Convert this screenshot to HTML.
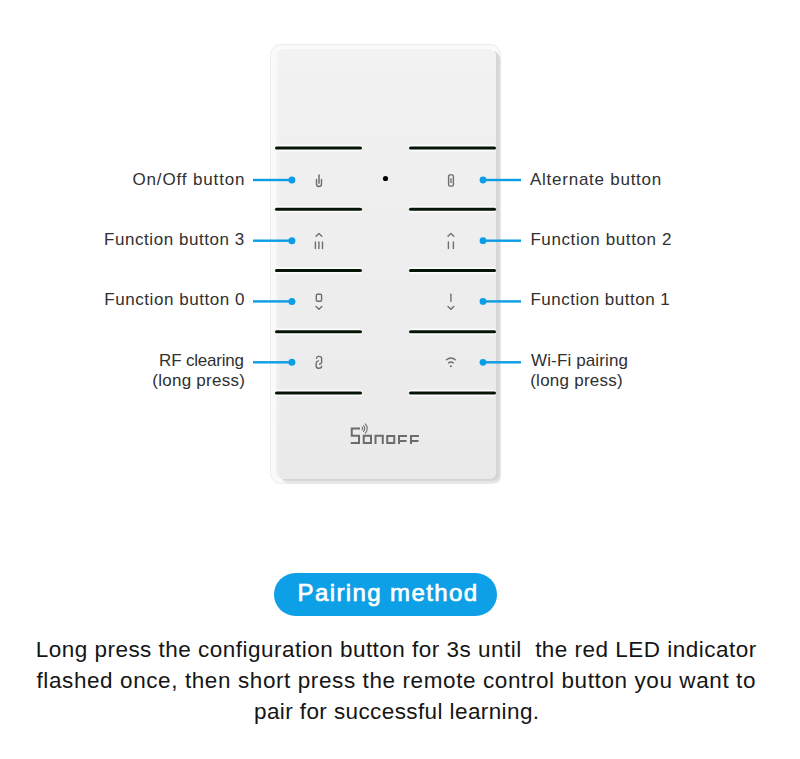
<!DOCTYPE html>
<html><head><meta charset="utf-8">
<style>
html,body{margin:0;padding:0;background:#fff;}
body{width:800px;height:759px;position:relative;overflow:hidden;font-family:"Liberation Sans",sans-serif;color:#2a2a2a;}
.abs{position:absolute;}
#frame{left:270px;top:44px;width:231px;height:440px;box-sizing:border-box;border:1px solid #ececec;border-radius:11px;background:#fafafa;}
#face{left:276px;top:49px;width:220px;height:430px;border-radius:8px 7px 7px 8px;box-shadow:3.5px 2px 0 0 #d6d6d6,5px 4.5px 0 0 #e6e6e6;background:linear-gradient(90deg,rgba(255,255,255,0.35),rgba(255,255,255,0) 4px),linear-gradient(180deg,#f2f2f2 0%,#eeeeee 45%,#eaeaea 100%);}
.lab{position:absolute;font-size:17px;line-height:21px;white-space:pre;color:#303030;}
#btn{left:274px;top:573px;width:223px;height:43px;border-radius:22px;background:#0ea0e6;}
.txt{position:absolute;font-size:22.5px;line-height:31px;white-space:pre;color:#151515;}
svg{position:absolute;left:0;top:0;}
</style></head><body>
<div id="frame" class="abs"></div>
<div id="face" class="abs"></div>







<svg width="800" height="759" viewBox="0 0 800 759">
 <rect x="275" y="144.75" width="87" height="6.5" rx="2" fill="#fcfcfc"/>
 <rect x="275" y="146.50" width="87" height="3" rx="1.5" fill="#061406"/>
 <rect x="409" y="144.75" width="87" height="6.5" rx="2" fill="#fcfcfc"/>
 <rect x="409" y="146.50" width="87" height="3" rx="1.5" fill="#061406"/>
 <rect x="275" y="206.05" width="87" height="6.5" rx="2" fill="#fcfcfc"/>
 <rect x="275" y="207.80" width="87" height="3" rx="1.5" fill="#061406"/>
 <rect x="409" y="206.05" width="87" height="6.5" rx="2" fill="#fcfcfc"/>
 <rect x="409" y="207.80" width="87" height="3" rx="1.5" fill="#061406"/>
 <rect x="275" y="267.35" width="87" height="6.5" rx="2" fill="#fcfcfc"/>
 <rect x="275" y="269.10" width="87" height="3" rx="1.5" fill="#061406"/>
 <rect x="409" y="267.35" width="87" height="6.5" rx="2" fill="#fcfcfc"/>
 <rect x="409" y="269.10" width="87" height="3" rx="1.5" fill="#061406"/>
 <rect x="275" y="328.55" width="87" height="6.5" rx="2" fill="#fcfcfc"/>
 <rect x="275" y="330.30" width="87" height="3" rx="1.5" fill="#061406"/>
 <rect x="409" y="328.55" width="87" height="6.5" rx="2" fill="#fcfcfc"/>
 <rect x="409" y="330.30" width="87" height="3" rx="1.5" fill="#061406"/>
 <rect x="275" y="389.85" width="87" height="6.5" rx="2" fill="#fcfcfc"/>
 <rect x="275" y="391.60" width="87" height="3" rx="1.5" fill="#061406"/>
 <rect x="409" y="389.85" width="87" height="6.5" rx="2" fill="#fcfcfc"/>
 <rect x="409" y="391.60" width="87" height="3" rx="1.5" fill="#061406"/>
 <rect x="253" y="178.80" width="38" height="2.4" fill="#0b9de6"/><circle cx="291.9" cy="180" r="3.5" fill="#0b9de6"/>
 <rect x="483" y="178.80" width="38" height="2.4" fill="#0b9de6"/><circle cx="483" cy="180" r="3.4" fill="#0b9de6"/>
 <rect x="253" y="239.50" width="38" height="2.4" fill="#0b9de6"/><circle cx="291.9" cy="240.7" r="3.5" fill="#0b9de6"/>
 <rect x="483" y="239.50" width="38" height="2.4" fill="#0b9de6"/><circle cx="483" cy="240.7" r="3.4" fill="#0b9de6"/>
 <rect x="253" y="300.20" width="38" height="2.4" fill="#0b9de6"/><circle cx="291.9" cy="301.4" r="3.5" fill="#0b9de6"/>
 <rect x="483" y="300.20" width="38" height="2.4" fill="#0b9de6"/><circle cx="483" cy="301.4" r="3.4" fill="#0b9de6"/>
 <rect x="253" y="361.10" width="38" height="2.4" fill="#0b9de6"/><circle cx="291.9" cy="362.3" r="3.5" fill="#0b9de6"/>
 <rect x="483" y="361.10" width="38" height="2.4" fill="#0b9de6"/><circle cx="483" cy="362.3" r="3.4" fill="#0b9de6"/>
 <circle cx="385.5" cy="178.5" r="2.6" fill="#000"/>
 <g fill="none" stroke="#6e6e6e" stroke-width="1.4" stroke-linecap="round" stroke-linejoin="round">
  <!-- on/off -->
  <path d="M316.5 179.4V184a2.5 2.5 0 0 0 5 0V179.4"/>
  <path d="M319 174.9V183.2" stroke-width="1.5"/>
  <!-- alternate -->
  <rect x="448.6" y="174.9" width="4.8" height="11.2" rx="1.3"/>
  <path d="M451 178.2V183" stroke="#8a8a8a" stroke-width="1.7" stroke-linecap="butt"/>
  <!-- fb3 -->
  <path d="M316 236.3L318.9 233.6L321.8 236.3"/>
  <path d="M315.4 242V248.6M318.9 242V248.6M322.5 242V248.6"/>
  <!-- fb2 -->
  <path d="M448 236.3L450.9 233.6L453.8 236.3"/>
  <path d="M448.4 242V248.6M453.4 242V248.6"/>
  <!-- fb0 -->
  <rect x="316.3" y="294.2" width="5.3" height="7" rx="1.2"/>
  <path d="M316 306.5L318.9 309.3L321.8 306.5"/>
  <!-- fb1 -->
  <path d="M450.9 294.3V301.2"/>
  <path d="M448 306.5L450.9 309.3L453.8 306.5"/>
  <!-- rf clearing link -->
  <path d="M316.6 358.3C316.6 356.8 317.2 356.4 318.9 356.4C320.9 356.4 321.6 356.8 321.6 358.4V362.6C321.6 363.6 320.6 364 319.5 364.2"/>
  <path d="M318.5 360.9C317 361.2 316.2 361.8 316.2 363V366.2C316.2 367.8 317 368.3 318.9 368.3C320.8 368.3 321.6 367.8 321.6 366.3"/>
  <!-- wifi -->
  <path d="M446.5 359.7Q450.9 356.2 455.3 359.7"/>
  <path d="M448.6 362.9Q450.9 361.1 453.2 362.9"/>
 </g>
 <circle cx="450.9" cy="366.2" r="1.05" fill="#6e6e6e"/>
 <!-- SONOFF logo -->
 <g fill="none" stroke="#6c6c6c" stroke-width="2" stroke-linejoin="miter" stroke-linecap="butt">
  <path d="M360 428.5H351.75V435.75H359V443H350.75"/>
  <rect x="363.75" y="435.75" width="7.25" height="7.25"/>
  <path d="M375.5 444V435.75H382.75V444"/>
  <rect x="387.25" y="436" width="7" height="7"/>
  <path d="M399 444V436H407M399 441H406.5"/>
  <path d="M411 444V436H419M411 441H418.5"/>
 </g>
 <g fill="none" stroke="#6c6c6c" stroke-width="1.1" stroke-linecap="round">
  <path d="M362.11 427.09A2 2 0 0 1 362.11 429.91"/>
  <path d="M363.53 425.67A4 4 0 0 1 363.53 431.33"/>
  <path d="M365.3 423.9A6.5 6.5 0 0 1 365.3 433.1"/>
 </g>
</svg>

<div class="lab" style="left:132.4px;top:169px;letter-spacing:0.867px">On/Off button</div>
<div class="lab" style="left:104.1px;top:229px;letter-spacing:0.550px">Function button 3</div>
<div class="lab" style="left:104.3px;top:289px;letter-spacing:0.550px">Function button 0</div>
<div class="lab" style="left:159.1px;top:350px;letter-spacing:-0.200px">RF clearing</div>
<div class="lab" style="left:152.3px;top:370px;letter-spacing:0.255px">(long press)</div>
<div class="lab" style="left:530.0px;top:169px;letter-spacing:0.747px">Alternate button</div>
<div class="lab" style="left:530.4px;top:229px;letter-spacing:0.600px">Function button 2</div>
<div class="lab" style="left:530.4px;top:289px;letter-spacing:0.500px">Function button 1</div>
<div class="lab" style="left:531.0px;top:350px;letter-spacing:0.133px">Wi-Fi pairing</div>
<div class="lab" style="left:530.2px;top:370px;letter-spacing:0.255px">(long press)</div>



<div id="btn" class="abs"></div>
<div class="abs" style="left:297.5px;top:577px;font-size:24px;line-height:31px;color:#fff;-webkit-text-stroke:0.7px #fff;letter-spacing:1.4px;white-space:pre">Pairing method</div>

<div class="txt" style="left:35.7px;top:634px;letter-spacing:0.483px">Long press the configuration button for 3s until  the red LED indicator</div>
<div class="txt" style="left:36.5px;top:665px;letter-spacing:0.594px">flashed once, then short press the remote control button you want to</div>
<div class="txt" style="left:254.0px;top:696px;letter-spacing:0.400px">pair for successful learning.</div>
</body></html>
